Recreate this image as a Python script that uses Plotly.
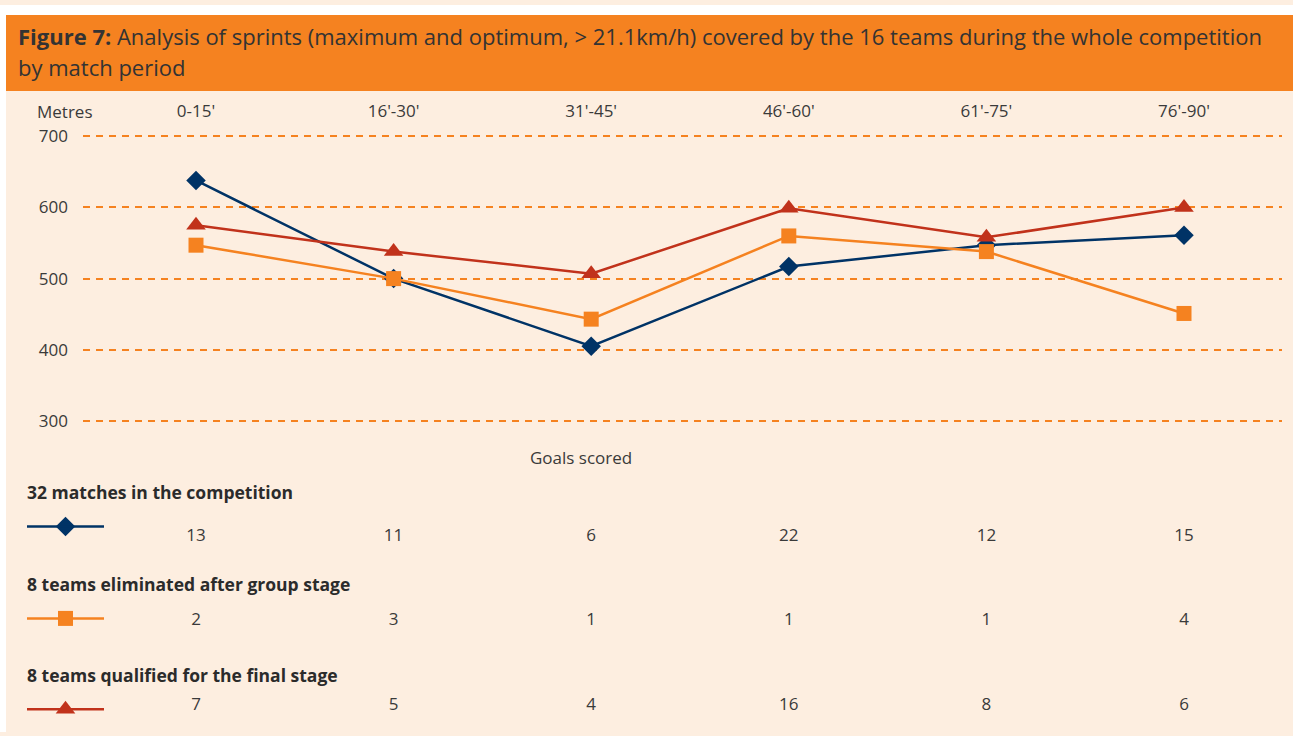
import plotly.graph_objects as go

# ---------------- data ----------------
periods = ["0-15'", "16'-30'", "31'-45'", "46'-60'", "61'-75'", "76'-90'"]
series_names = [
    "32 matches in the competition",
    "8 teams eliminated after group stage",
    "8 teams qualified for the final stage",
]
metres_all = [638, 500, 405, 517, 547, 561]
metres_elim = [547, 500, 443, 560, 538, 451]
metres_qual = [575, 538, 507, 599, 558, 600]
goals_all = [13, 11, 6, 22, 12, 15]
goals_elim = [2, 3, 1, 1, 1, 4]
goals_qual = [7, 5, 4, 16, 8, 6]
y_ticks = [300, 400, 500, 600, 700]

# ---------------- styles ----------------
W, H = 1293, 736
BG = "#FDEEE0"
ORANGE = "#F58220"
NAVY = "#003366"
RED = "#C1321B"
TXT = "#3a3a3a"
FONT = "Open Sans"

colors = [NAVY, ORANGE, RED]
symbols = ["diamond", "square", "triangle-up"]
msizes = [15, 15, 17]
metres = [metres_all, metres_elim, metres_qual]
goals = [goals_all, goals_elim, goals_qual]

# pixel layout (from top)
plot_left, plot_right = 83, 1282
plot_top, plot_bottom = 126, 428
cat0_px, cat_step = 196, 197.6
px_per_100 = 72.0
y700_px = 133

def px_to_val(px):
    return 700 - (px - y700_px) / px_per_100 * 100

x_range = [(plot_left - cat0_px) / cat_step, (plot_right - cat0_px) / cat_step]
y_range = [px_to_val(plot_bottom), px_to_val(plot_top)]

label_y = [493, 586, 678]
legend_line_y = [528, 621, 713]
number_y = [538, 623, 709]

fig = go.Figure()

idx = list(range(len(periods)))
for i in range(3):
    fig.add_trace(go.Scatter(
        x=idx, y=metres[i], mode="lines+markers", name=series_names[i],
        line=dict(color=colors[i], width=2.5),
        marker=dict(symbol=symbols[i], size=msizes[i], color=colors[i]),
        showlegend=False, hoverinfo="skip", cliponaxis=False,
    ))

# goals numbers rows (x: categories, y: pixel overlay axis)
for i in range(3):
    fig.add_trace(go.Scatter(
        x=idx, y=[number_y[i]] * len(idx), xaxis="x", yaxis="y3",
        mode="text", text=[str(v) for v in goals[i]],
        textfont=dict(family=FONT, size=17, color=TXT),
        showlegend=False, hoverinfo="skip", cliponaxis=False,
    ))

# legend symbols (pixel overlay axes)
for i in range(3):
    fig.add_shape(type="line", xref="x3", yref="y3", x0=27, x1=104,
                  y0=legend_line_y[i], y1=legend_line_y[i],
                  line=dict(color=colors[i], width=2.5))
    fig.add_trace(go.Scatter(
        x=[65.5], y=[legend_line_y[i]], xaxis="x3", yaxis="y3",
        mode="markers",
        marker=dict(symbol=symbols[i], size=msizes[i], color=colors[i]),
        showlegend=False, hoverinfo="skip", cliponaxis=False,
    ))
    fig.add_annotation(xref="x3", yref="y3", x=25, y=label_y[i],
                       text="<b>" + series_names[i] + "</b>", showarrow=False,
                       xanchor="left", yanchor="middle",
                       font=dict(family=FONT, size=17.5, color="#2b2b2b"))

# background pieces
fig.add_shape(type="rect", xref="x3", yref="y3", x0=0, x1=6, y0=0, y1=H,
              fillcolor="white", line=dict(width=0), layer="below")
fig.add_shape(type="rect", xref="x3", yref="y3", x0=0, x1=W, y0=0, y1=10,
              fillcolor="white", line=dict(width=0), layer="below")
fig.add_shape(type="rect", xref="x3", yref="y3", x0=6, x1=W, y0=10, y1=87,
              fillcolor=ORANGE, line=dict(width=0), layer="below")

# title (two lines)
fig.add_annotation(xref="x3", yref="y3", x=16, y=31,
                   text="<b>Figure 7:</b> Analysis of sprints (maximum and optimum, &gt; 21.1km/h) covered by the 16 teams during the whole competition",
                   showarrow=False, xanchor="left", yanchor="middle", align="left",
                   font=dict(family=FONT, size=22, color="#333333"))
fig.add_annotation(xref="x3", yref="y3", x=16, y=63,
                   text="by match period",
                   showarrow=False, xanchor="left", yanchor="middle", align="left",
                   font=dict(family=FONT, size=22, color="#333333"))

fig.add_annotation(xref="x3", yref="y3", x=65, y=108, text="Metres",
                   showarrow=False, xanchor="center", yanchor="middle",
                   font=dict(family=FONT, size=17, color=TXT))
fig.add_annotation(xref="x3", yref="y3", x=581, y=458, text="Goals scored",
                   showarrow=False, xanchor="center", yanchor="middle",
                   font=dict(family=FONT, size=17, color=TXT))

fig.update_layout(
    width=W, height=H,
    margin=dict(l=0, r=0, t=0, b=0),
    paper_bgcolor=BG, plot_bgcolor="rgba(0,0,0,0)",
    font=dict(family=FONT, color=TXT),
    xaxis=dict(domain=[plot_left / W, plot_right / W], range=x_range,
               side="top", tickmode="array", tickvals=idx, ticktext=periods,
               showgrid=False, zeroline=False, showline=False, ticks="",
               tickfont=dict(family=FONT, size=17, color=TXT), anchor="y",
               ticklabelstandoff=8),
    yaxis=dict(domain=[1 - plot_bottom / H, 1 - plot_top / H], range=y_range,
               tickmode="array", tickvals=y_ticks, showgrid=True,
               gridcolor=ORANGE, gridwidth=2, griddash="7px,6px",
               zeroline=False, showline=False, ticks="",
               tickfont=dict(family=FONT, size=17, color=TXT),
               ticklabelstandoff=14, anchor="x"),
    xaxis3=dict(domain=[0, 1], range=[0, W], visible=False, anchor="y3"),
    yaxis3=dict(domain=[0, 1], range=[H, 0], visible=False, anchor="x3"),
)

fig.write_html(
    "out.html",
    config={"displayModeBar": False},
    post_script=("document.documentElement.style.margin='0';"
                 "document.body.style.margin='0';document.body.style.padding='0';"
                 "document.documentElement.style.overflow='hidden';"
                 "document.body.style.overflow='hidden';"
                 "var gd=document.querySelector('.plotly-graph-div');"
                 "gd.style.position='fixed';gd.style.left='0px';gd.style.top='0px';"),
)
